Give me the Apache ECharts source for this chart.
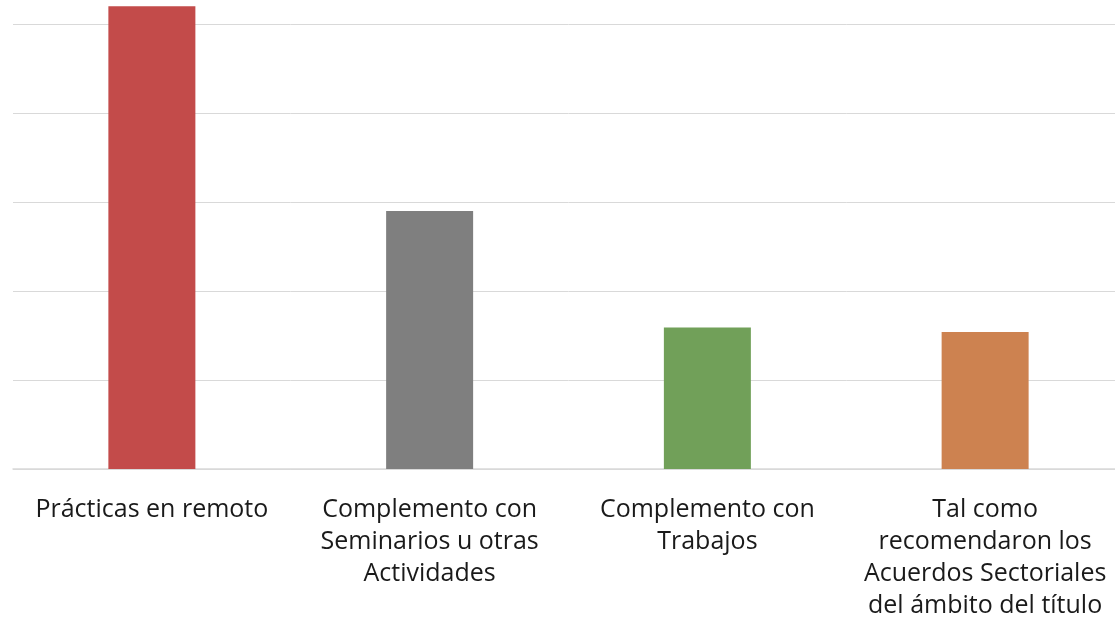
<!DOCTYPE html>
<html>
<head>
<meta charset="utf-8">
<script src="https://cdn.jsdelivr.net/npm/echarts@6/dist/echarts.min.js"></script>
<style>
  html, body { margin: 0; padding: 0; background: #fff; overflow: hidden; }
  /* el gráfico original está recortado arriba y a la derecha */
  #chart { position: absolute; left: 0; top: -65px; width: 1124px; height: 692px; }
</style>
</head>
<body>
<div id="chart"></div>
<script>
// categorías y valores
const categories = [
  'Prácticas en remoto',
  'Complemento con\nSeminarios u otras\nActividades',
  'Complemento con\nTrabajos',
  'Tal como\nrecomendaron los\nAcuerdos Sectoriales\ndel ámbito del título'
]
const values = [52.0, 29.0, 15.9, 15.4]
const barColors = ['#C34B4A', '#7F7F7F', '#71A059', '#CD8250']

const chart = echarts.init(document.getElementById('chart'))

chart.setOption({
  animation: false,
  grid: {
    left: 13,
    right: 0,
    top: 0,
    bottom: 158
  },
  xAxis: {
    type: 'category',
    data: categories,
    axisLine: { lineStyle: { color: '#D9D9D9', width: 1.5 } },
    axisTick: { length: 10, lineStyle: { color: '#D9D9D9', width: 1.5 } },
    axisLabel: {
      interval: 0,
      margin: 25,
      color: '#1a1a1a',
      fontFamily: 'Open Sans',
      fontSize: 25,
      lineHeight: 32
    }
  },
  yAxis: {
    type: 'value',
    min: 0,
    max: 60,
    interval: 10,
    axisLabel: { show: false },
    axisLine: { show: false },
    axisTick: { show: false },
    splitLine: { lineStyle: { color: '#D9D9D9', width: 1 } }
  },
  series: [{
    type: 'bar',
    barWidth: 87,
    data: values.map((v, i) => ({ value: v, itemStyle: { color: barColors[i] } }))
  }]
})
</script>
</body>
</html>
